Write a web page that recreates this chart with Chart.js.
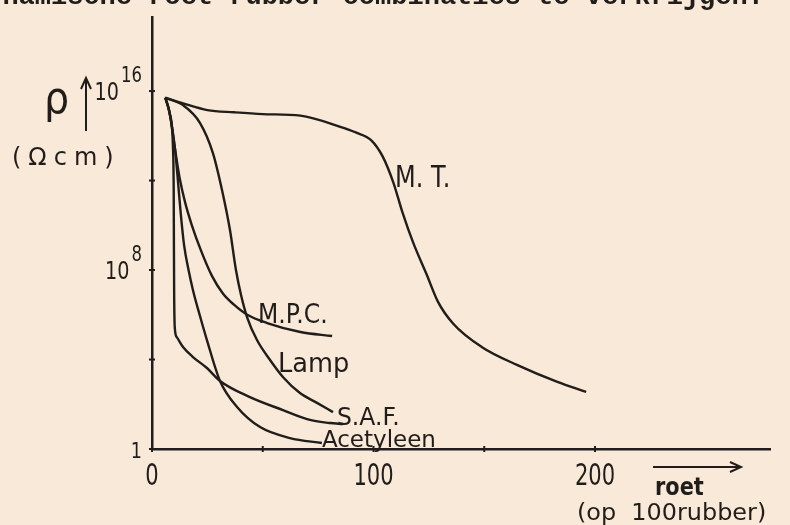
<!DOCTYPE html>
<html>
<head>
<meta charset="utf-8">
<script src="https://cdn.jsdelivr.net/npm/chart.js@4.4.0/dist/chart.umd.min.js"></script>
<style>
  html, body { margin: 0; padding: 0; background: #f8e9d8; }
  #wrap { width: 790px; height: 525px; }
</style>
</head>
<body>
<div id="wrap"><canvas id="chart" width="790" height="525"></canvas></div>
<script>
// roet (delen op 100 rubber) tegen log10 van de soortelijke weerstand (ohm cm)
const mtX = [6, 14, 25, 37, 50, 67, 85, 92, 99, 104, 109, 113, 118, 124, 129, 136, 149, 165, 183, 196];
const mtLog = [15.7, 15.45, 15.15, 15.05, 14.97, 14.9, 14.4, 14.15, 13.8, 13.1, 11.9, 10.6, 9.2, 7.8, 6.6, 5.6, 4.55, 3.75, 3.0, 2.55];

const mpcX = [6, 8, 10.4, 12.5, 15, 18, 22, 27, 32, 37, 43, 52, 67, 81.3];
const mpcLog = [15.7, 15.0, 13.4, 12.1, 11.0, 10.0, 8.9, 7.75, 6.95, 6.45, 6.0, 5.63, 5.23, 5.05];

const lampX = [6, 14, 21.7, 27.5, 31.6, 35.2, 37.9, 40.2, 42.9, 47.4, 53.3, 59.1, 66.8, 74.5, 81.7];
const lampLog = [15.7, 15.37, 14.57, 13.23, 11.58, 9.79, 8.0, 6.88, 5.9, 4.87, 3.98, 3.22, 2.5, 2.06, 1.65];

const safX = [6, 8, 9.5, 9.8, 9.9, 10.0, 10.3, 11.2, 14, 18.5, 24.8, 30.7, 44.2, 59.1, 71.3, 80.4, 86.2];
const safLog = [15.7, 15.0, 13.4, 11.5, 9.0, 7.0, 5.4, 5.0, 4.56, 4.11, 3.62, 3.04, 2.32, 1.74, 1.30, 1.16, 1.12];

const acetX = [6, 8, 10.4, 11.7, 13, 14.5, 16.5, 18.5, 21.5, 24.8, 30.7, 38.4, 48.8, 62.3, 76.7];
const acetLog = [15.7, 15.0, 13.4, 12.0, 10.5, 9.1, 8.0, 7.1, 6.0, 4.87, 3.04, 1.88, 0.98, 0.49, 0.27];

const seriesNames = ["M. T.", "M.P.C.", "Lamp", "S.A.F.", "Acetyleen"];

const xTicks = [0, 50, 100, 150, 200];
const xTickLabels = ["0", "", "100", "", "200"];
const yTickExp = [0, 4, 8, 12, 16];
const yTickBase = ["1", "", "10", "", "10"];
const yTickSup = ["", "", "8", "", "16"];

// where each curve name is written (data coordinates: roet, log10 rho)
const labelAnchors = [
  { x: 109.7, exp: 11.71, size: 30, sx: 0.8 },
  { x: 47.9, exp: 5.63, size: 27, sx: 0.87 },
  { x: 56.9, exp: 3.44, size: 27, sx: 0.95 },
  { x: 83.5, exp: 1.07, size: 25, sx: 0.94 },
  { x: 76.7, exp: 0.09, size: 23, sx: 1.0 }
];

const ink = "#211d1a";
const paper = "#f8e9d8";

function toPoints(xs, logs) {
  return xs.map((x, i) => ({ x: x, y: Math.pow(10, logs[i]) }));
}

function txt(ctx, s, x, y, size, sx, align, weight, family, spacing) {
  ctx.save();
  ctx.font = (weight || "normal") + " " + size + "px " + (family || "'DejaVu Sans'");
  if (spacing) ctx.letterSpacing = spacing;
  ctx.translate(x, y);
  ctx.scale(sx, 1);
  ctx.textAlign = align || "left";
  ctx.textBaseline = "alphabetic";
  ctx.fillStyle = ink;
  ctx.fillText(s, 0, 0);
  ctx.restore();
}

function textWidth(ctx, s, size, sx) {
  ctx.save();
  ctx.font = size + "px 'DejaVu Sans'";
  const w = ctx.measureText(s).width * sx;
  ctx.restore();
  return w;
}

const paperPlugin = {
  id: "paper",
  beforeDraw(chart) {
    const ctx = chart.ctx;
    ctx.save();
    ctx.fillStyle = paper;
    ctx.fillRect(0, 0, chart.width, chart.height);
    ctx.restore();
    // typed line of the page, cut off at the top
    txt(ctx, "dynamische roet rubber combinaties te verkrijgen.", -30, 4, 27, 1, "left", "bold", "'Liberation Mono'");
  },
  afterDraw(chart) {
    const ctx = chart.ctx;
    const xs = chart.scales.x;
    const ys = chart.scales.y;
    const left = chart.chartArea.left;
    const bottom = chart.chartArea.bottom;

    ctx.save();
    ctx.strokeStyle = ink;
    ctx.lineWidth = 2;
    xTicks.forEach(v => {
      const px = xs.getPixelForValue(v);
      ctx.beginPath(); ctx.moveTo(px, bottom - 3); ctx.lineTo(px, bottom + 3); ctx.stroke();
    });
    yTickExp.forEach(e => {
      const py = ys.getPixelForValue(Math.pow(10, e));
      ctx.beginPath(); ctx.moveTo(left - 3, py); ctx.lineTo(left + 3, py); ctx.stroke();
    });
    ctx.restore();

    xTicks.forEach((v, i) => {
      if (xTickLabels[i]) txt(ctx, xTickLabels[i], xs.getPixelForValue(v), bottom + 36, 31, 0.68, "center");
    });
    yTickExp.forEach((e, i) => {
      const py = ys.getPixelForValue(Math.pow(10, e));
      if (yTickSup[i]) {
        txt(ctx, yTickSup[i], 142, py - 9, 22, 0.75, "right");
        const supW = textWidth(ctx, yTickSup[i], 22, 0.75);
        txt(ctx, yTickBase[i], 142 - supW - 2, py + 9, 24, 0.8, "right");
      } else if (yTickBase[i]) {
        txt(ctx, yTickBase[i], 142, py + 9, 22, 0.8, "right");
      }
    });

    // y axis title: rho with arrow, unit below
    txt(ctx, "ρ", 44, 113, 44, 0.9, "left");
    ctx.save();
    ctx.strokeStyle = ink;
    ctx.lineWidth = 2;
    ctx.beginPath(); ctx.moveTo(86, 131); ctx.lineTo(86, 79); ctx.stroke();
    ctx.beginPath(); ctx.moveTo(81, 89); ctx.lineTo(86, 78); ctx.lineTo(91, 89); ctx.stroke();
    ctx.restore();
    txt(ctx, "(Ωcm)", 12, 165, 24, 1, "left", "normal", "'DejaVu Sans'", "7px");

    // x axis title
    ctx.save();
    ctx.strokeStyle = ink;
    ctx.lineWidth = 2;
    ctx.beginPath(); ctx.moveTo(653, 467); ctx.lineTo(740, 467); ctx.stroke();
    ctx.beginPath(); ctx.moveTo(730, 462); ctx.lineTo(741, 467); ctx.lineTo(730, 472); ctx.stroke();
    ctx.restore();
    txt(ctx, "roet", 655, 495, 24, 0.87, "left", "bold");
    txt(ctx, "(op  100rubber)", 577, 520, 23, 1.04, "left");

    // curve names
    labelAnchors.forEach((a, i) => {
      txt(ctx, seriesNames[i], xs.getPixelForValue(a.x), ys.getPixelForValue(Math.pow(10, a.exp)), a.size, a.sx, "left");
    });
  }
};

const series = [
  [mtX, mtLog], [mpcX, mpcLog], [lampX, lampLog], [safX, safLog], [acetX, acetLog]
];

new Chart(document.getElementById("chart").getContext("2d"), {
  type: "line",
  data: {
    datasets: series.map((s, i) => ({
      label: seriesNames[i],
      data: toPoints(s[0], s[1]),
      borderColor: ink,
      borderWidth: 2.4,
      pointRadius: 0,
      cubicInterpolationMode: "monotone",
      fill: false
    }))
  },
  options: {
    responsive: false,
    animation: false,
    layout: { padding: { top: 17, right: 20, left: 0, bottom: 0 } },
    plugins: { legend: { display: false }, tooltip: { enabled: false } },
    scales: {
      x: {
        type: "linear",
        min: 0,
        max: 279,
        grid: { display: false },
        border: { display: true, color: ink, width: 2.5 },
        ticks: { display: false },
        afterFit(scale) { scale.height = 76; }
      },
      y: {
        type: "logarithmic",
        min: 1,
        max: Math.pow(10, 19.31),
        grid: { display: false },
        border: { display: true, color: ink, width: 2.5 },
        ticks: { display: false },
        afterFit(scale) { scale.width = 152; }
      }
    }
  },
  plugins: [paperPlugin]
});
</script>
</body>
</html>
